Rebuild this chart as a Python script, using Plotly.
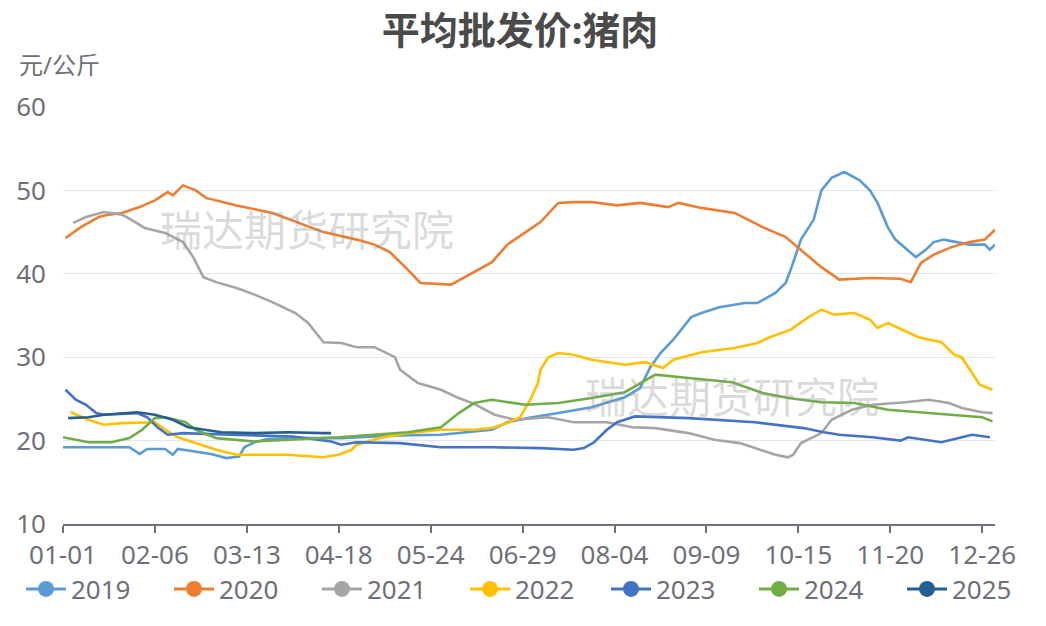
import pandas as pd
import plotly.graph_objects as go

# ---------------- data ----------------
CATEGORIES = list(pd.date_range("2024-01-01", "2024-12-31").strftime("%m-%d"))
TICK_LABELS = ["01-01", "02-06", "03-13", "04-18", "05-24", "06-29",
               "08-04", "09-09", "10-15", "11-20", "12-26"]
YEARS = ["2019", "2020", "2021", "2022", "2023", "2024", "2025"]
COLORS = ["#5B9BD5", "#ED7D31", "#A5A5A5", "#FFC000", "#4472C4", "#70AD47", "#255E91"]

# day-of-year index (0 = 01-01) and price (元/公斤)
day_2019 = [0, 14, 26, 30, 33, 40, 43, 45, 50, 58, 64, 69, 71, 75, 80, 93, 109, 128, 148, 168,
            174, 182, 194, 207, 220, 226, 230, 234, 239, 246, 250, 257, 267, 272, 279, 283, 285,
            289, 294, 297, 301, 306, 312, 316, 319, 323, 326, 334, 338, 341, 345, 355, 361, 363, 365]
val_2019 = [19.2, 19.2, 19.2, 18.4, 19.0, 19.0, 18.3, 19.0, 18.8, 18.4, 17.9, 18.1, 19.2, 19.8,
            20.2, 20.3, 20.3, 20.6, 20.7, 21.3, 22.2, 22.7, 23.3, 24.0, 25.2, 26.3, 28.8, 30.5,
            32.1, 34.8, 35.3, 36.0, 36.5, 36.5, 37.7, 38.9, 40.5, 44.1, 46.5, 50.0, 51.5, 52.2,
            51.2, 50.0, 48.5, 45.6, 44.1, 42.0, 42.9, 43.8, 44.1, 43.5, 43.5, 42.9, 43.5]

day_2020 = [1, 7, 14, 18, 23, 30, 36, 41, 43, 47, 52, 56, 68, 82, 102, 115, 122, 128, 135, 140,
            152, 161, 168, 174, 181, 187, 194, 200, 207, 217, 226, 237, 241, 250, 263, 274, 283,
            289, 297, 304, 316, 328, 332, 336, 341, 348, 355, 361, 365]
val_2020 = [44.3, 45.6, 46.8, 47.1, 47.3, 48.0, 48.8, 49.8, 49.4, 50.6, 50.0, 49.1, 48.2, 47.3,
            45.0, 44.1, 43.5, 42.6, 40.5, 38.9, 38.7, 40.2, 41.4, 43.5, 44.9, 46.2, 48.5, 48.6,
            48.6, 48.2, 48.5, 48.0, 48.5, 47.9, 47.3, 45.6, 44.4, 42.9, 40.8, 39.3, 39.5, 39.4,
            39.0, 41.3, 42.3, 43.2, 43.8, 44.1, 45.3]

day_2021 = [4, 9, 16, 23, 25, 32, 40, 47, 51, 55, 60, 68, 75, 82, 91, 96, 102, 109, 115, 122,
            130, 132, 139, 148, 155, 161, 169, 177, 190, 200, 213, 223, 232, 245, 255, 265, 271,
            279, 284, 286, 289, 297, 301, 309, 317, 330, 339, 347, 352, 360, 364]
val_2021 = [46.1, 46.8, 47.4, 47.1, 46.8, 45.5, 44.9, 43.8, 42.0, 39.6, 39.0, 38.3, 37.5, 36.6,
            35.3, 34.1, 31.8, 31.7, 31.2, 31.2, 30.0, 28.5, 26.9, 26.1, 25.1, 24.4, 23.1, 22.5,
            22.8, 22.2, 22.2, 21.6, 21.5, 20.9, 20.1, 19.7, 19.1, 18.3, 18.0, 18.3, 19.7, 20.9,
            22.5, 23.7, 24.3, 24.6, 24.9, 24.5, 23.9, 23.4, 23.3]

day_2022 = [3, 10, 16, 23, 36, 40, 45, 52, 60, 68, 88, 102, 108, 113, 115, 124, 135, 148, 161,
            168, 174, 179, 183, 186, 187, 190, 194, 200, 207, 220, 228, 235, 239, 250, 263, 272,
            276, 285, 292, 297, 302, 310, 316, 319, 323, 335, 344, 349, 352, 359, 364]
val_2022 = [23.4, 22.5, 21.9, 22.1, 22.2, 21.3, 20.4, 19.7, 18.9, 18.3, 18.3, 18.0, 18.3, 18.9,
            19.5, 20.3, 20.9, 21.3, 21.3, 21.5, 22.1, 22.8, 24.9, 26.9, 28.5, 30.0, 30.5, 30.3,
            29.7, 29.1, 29.4, 28.7, 29.7, 30.6, 31.1, 31.7, 32.3, 33.3, 34.8, 35.7, 35.1, 35.3,
            34.5, 33.5, 34.1, 32.4, 31.8, 30.3, 30.0, 26.7, 26.1]

day_2023 = [1, 5, 9, 13, 16, 29, 33, 37, 41, 47, 66, 90, 105, 109, 115, 132, 148, 168, 187, 200,
            204, 208, 213, 217, 224, 245, 271, 290, 298, 304, 317, 328, 331, 344, 356, 363]
val_2023 = [26.1, 24.9, 24.3, 23.3, 23.1, 23.3, 22.8, 21.6, 20.7, 20.9, 20.7, 20.5, 19.9, 19.5,
            19.8, 19.7, 19.2, 19.2, 19.1, 18.9, 19.1, 19.8, 21.3, 22.2, 22.9, 22.7, 22.2, 21.5,
            21.0, 20.7, 20.4, 20.0, 20.4, 19.8, 20.7, 20.4]

day_2024 = [0, 10, 19, 26, 31, 36, 40, 48, 52, 60, 75, 88, 108, 135, 148, 155, 161, 168, 181,
            194, 207, 220, 226, 232, 245, 262, 274, 284, 297, 310, 323, 336, 349, 360, 364]
val_2024 = [20.4, 19.8, 19.8, 20.3, 21.3, 22.7, 22.8, 22.2, 21.3, 20.3, 19.9, 20.1, 20.4, 21.0,
            21.6, 23.3, 24.5, 24.9, 24.3, 24.5, 25.1, 25.8, 26.9, 27.9, 27.5, 27.0, 25.7, 25.1,
            24.6, 24.5, 23.7, 23.4, 23.1, 22.8, 22.3]

day_2025 = [2, 10, 16, 23, 29, 36, 43, 49, 56, 62, 75, 88, 102, 105]
val_2025 = [22.7, 22.8, 23.1, 23.3, 23.4, 23.1, 22.5, 21.6, 21.3, 21.0, 20.9, 21.0, 20.9, 20.9]

SERIES_DAYS = [day_2019, day_2020, day_2021, day_2022, day_2023, day_2024, day_2025]
SERIES_VALS = [val_2019, val_2020, val_2021, val_2022, val_2023, val_2024, val_2025]

TITLE = "平均批发价:猪肉"
UNIT = "元/公斤"
WATERMARK = "瑞达期货研究院"

# ---------------- figure ----------------
FONT = "Noto Sans, Noto Sans CJK SC, sans-serif"
fig = go.Figure()

for name, color, days, vals in zip(YEARS, COLORS, SERIES_DAYS, SERIES_VALS):
    fig.add_trace(go.Scatter(x=days, y=vals, mode="lines", name=name,
                             line=dict(color=color, width=2.6), showlegend=False,
                             hoverinfo="skip"))

# legend entries (split over two legend boxes so the row never wraps)
for i, (name, color) in enumerate(zip(YEARS, COLORS)):
    fig.add_trace(go.Scatter(x=[None], y=[None], mode="lines+markers", name=name,
                             line=dict(color=color, width=3),
                             marker=dict(color=color, size=16),
                             legend="legend" if i < 4 else "legend2"))

tickvals = [CATEGORIES.index(t) for t in TICK_LABELS]

legend_common = dict(orientation="h", xref="container", yref="container",
                     xanchor="left", y=1 - 589 / 626, yanchor="middle",
                     font=dict(size=26, color="#6E7079", family=FONT), entrywidth=93,
                     itemwidth=40, tracegroupgap=0, bgcolor="rgba(0,0,0,0)")

fig.update_layout(
    width=1046, height=626,
    paper_bgcolor="white", plot_bgcolor="white",
    margin=dict(l=63, r=51, t=107, b=102, autoexpand=False),
    font=dict(family=FONT, color="#6E7079"),
    title=dict(text="<b>" + TITLE + "</b>", x=520 / 1046, xanchor="center",
               y=1 - 31 / 626, yanchor="middle", xref="container", yref="container",
               font=dict(size=38, color="#4A4A4A", family=FONT)),
    xaxis=dict(range=[0, len(CATEGORIES) - 1], tickmode="array", tickvals=tickvals,
               ticktext=TICK_LABELS, showgrid=False, zeroline=False,
               showline=True, linecolor="#6E7079", linewidth=1.5,
               ticks="outside", ticklen=7, tickcolor="#6E7079", tickwidth=1.5,
               tickfont=dict(size=26, color="#6E7079")),
    yaxis=dict(range=[10, 60], dtick=10, showgrid=True, gridcolor="#E0E6F1",
               gridwidth=1.2, zeroline=False, showline=False, ticks="",
               ticklabelstandoff=16, tickfont=dict(size=26, color="#6E7079")),
    legend=dict(x=21 / 1046, **legend_common),
    legend2=dict(x=606 / 1046, **legend_common),
    showlegend=True,
)

fig.add_annotation(text=UNIT, xref="paper", yref="paper", x=-63 / 932, xanchor="left",
                   y=1 + (107 - 65) / 417, yanchor="middle", showarrow=False,
                   xshift=17, font=dict(size=24, color="#6E7079", family=FONT))

for wx, wy in [(307, 229), (732, 396)]:
    fig.add_annotation(text=WATERMARK, xref="paper", yref="paper",
                       x=(wx - 63) / 932, y=(524 - wy) / 417, xanchor="center",
                       yanchor="middle", showarrow=False,
                       font=dict(size=42, color="rgba(150,150,150,0.35)", family=FONT))

fig.write_html("out.html", config={"displayModeBar": False},
               post_script="document.body.style.margin='0';document.body.style.overflow='hidden';")
